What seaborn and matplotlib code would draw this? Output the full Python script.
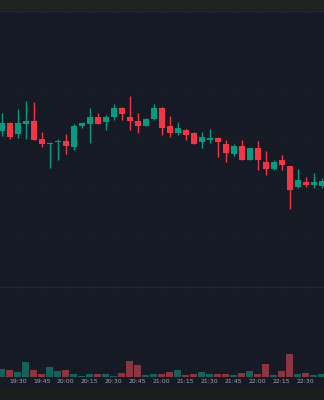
import numpy as np
import pandas as pd
import matplotlib
matplotlib.use("Agg")
import matplotlib.pyplot as plt
import matplotlib.transforms as mtransforms
from matplotlib.patches import Rectangle
from matplotlib.lines import Line2D
import seaborn as sns

# ---------------- data (5-minute candles, arbitrary price units) ----------------
times = [f"{19 + (20 + 5 * i) // 60}:{(20 + 5 * i) % 60:02d}" for i in range(41)]
opens = [169, 177, 166, 176.5, 179, 161, 156.5, 158.5, 159, 153.5,
         174.5, 176.5, 183.5, 178.5, 183.5, 192.5, 183.5, 179, 174.5, 181,
         192.5, 174, 167.5, 170, 167.5, 158, 160, 162.5, 156, 146.5,
         154, 140, 152, 138.5, 131, 140, 134, 113.5, 118, 115.5, 114]
highs = [187, 178, 191, 199, 198, 168.5, 158, 161, 166, 176,
         178, 192, 187.5, 185, 196, 193, 204, 187.5, 182, 196,
         193.5, 184, 178.5, 171, 168.5, 168.5, 171.5, 163, 160.5, 156,
         160.5, 152, 159.5, 149, 140, 145.5, 134, 131.5, 123.5, 127, 122]
lows = [164, 161, 162, 161, 160, 153, 132, 140, 146, 150,
        172, 157, 176, 170, 180.5, 180.5, 170.5, 167.5, 174, 180,
        165, 163, 165, 160.5, 156, 152.5, 157, 143, 138.5, 144,
        140, 140, 130, 125, 130, 130, 91.5, 112, 113, 112, 112]
closes = [177, 163, 177, 179, 160, 156, 157, 159, 154, 174.5,
          177, 183.5, 176.5, 183.5, 192.5, 186, 179, 174.5, 181, 192.5,
          172, 167.5, 172, 165.5, 156.5, 163, 162.5, 158, 147.5, 154,
          140, 152, 140, 131, 138.5, 135.5, 110.5, 120, 115.5, 118, 119]
volumes = [840, 740, 500, 1500, 670, 270, 1000, 600, 740, 340,
           140, 340, 340, 270, 140, 400, 1570, 1170, 170, 270,
           340, 500, 670, 170, 340, 500, 270, 340, 340, 170,
           400, 570, 340, 1340, 170, 600, 2340, 270, 440, 170, 270]
label_times = ["19:30", "19:45", "20:00", "20:15", "20:30", "20:45", "21:00",
               "21:15", "21:30", "21:45", "22:00", "22:15", "22:30"]

# ---------------- style ----------------
BG = "#161a25"
UP = "#089981"
DOWN = "#f23645"
UP_VOL = "#15615b"
DOWN_VOL = "#8a3540"
GRID = "#1a1e2a"
HGRID = "#191d28"

sns.set_theme(style="dark", rc={"axes.facecolor": BG, "figure.facecolor": BG})
plt.rcParams["font.family"] = ["DejaVu Sans"]

W, H = 324, 400
fig = plt.figure(figsize=(W / 100, H / 100), dpi=100)
fig.patch.set_facecolor(BG)

n = len(times)
xlo = -1.7 / 8
xhi = (W - 1.7) / 8
idx = np.arange(n)

def frac(px_top, px_bot):
    return [0, 1 - px_bot / H, 1, (px_bot - px_top) / H]

# background grid axes
axg = fig.add_axes(frac(11, 377))
axg.set_facecolor(BG)
axg.set_xlim(xlo, xhi)
axg.set_ylim(377, 11)
label_idx = [times.index(t) for t in label_times]
for k in label_idx:
    axg.axvline(k, color=GRID, lw=1, zorder=0)
for ypx in [89, 137, 185, 233]:
    axg.axhline(ypx, color=HGRID, lw=1, zorder=0)
axg.axis("off")

# main candle pane
ax = fig.add_axes(frac(11, 286))
ax.patch.set_alpha(0)
df = pd.DataFrame({"t": times, "o": opens, "h": highs, "l": lows, "c": closes, "v": volumes})
df["x"] = idx
df["dir"] = np.where(df["c"] >= df["o"], "up", "down")
colors = np.where(df["dir"] == "up", UP, DOWN)
ax.vlines(df["x"], df["l"], df["h"], colors=colors, lw=1, zorder=2)
body_bottom = np.minimum(df["o"], df["c"])
body_height = np.maximum(np.abs(df["c"] - df["o"]), 1.0)
ax.bar(df["x"], body_height, bottom=body_bottom, width=0.75, color=colors,
       edgecolor="none", zorder=3)
ax.set_xlim(xlo, xhi)
ax.set_ylim(300 - 286, 300 - 11)
ax.axis("off")

# volume pane
axv = fig.add_axes(frac(286, 377))
axv.patch.set_alpha(0)
sns.barplot(data=df, x="x", y="v", hue="dir", palette={"up": UP_VOL, "down": DOWN_VOL},
            dodge=False, width=0.9, saturation=1, legend=False, ax=axv, zorder=2)
for p in axv.patches:
    p.set_edgecolor("none")
axv.set_xlim(xlo, xhi)
axv.set_ylim(0, 9100)
axv.axis("off")

# pane separator and bands
fig.add_artist(Line2D([0, 1], [1 - 286.5 / H] * 2, color="#2a2433", lw=1))
fig.add_artist(Rectangle((0, 1 - 10 / H), 1, 10 / H, transform=fig.transFigure,
                         facecolor="#1f221f", edgecolor="none"))
fig.add_artist(Line2D([0, 1], [1 - 10.5 / H] * 2, color="#2a2527", lw=1))
fig.add_artist(Rectangle((0, 0), 1, 13 / H, transform=fig.transFigure,
                         facecolor="#1c1d1f", edgecolor="none"))

# time labels
trans = mtransforms.blended_transform_factory(axg.transData, fig.transFigure)
for t, k in zip(label_times, label_idx):
    fig.text(k, 1 - 381.5 / H, t, transform=trans, ha="center", va="center",
             fontsize=4.4, color="#a3a6ae")

fig.savefig("out.png", dpi=100, facecolor=BG)
